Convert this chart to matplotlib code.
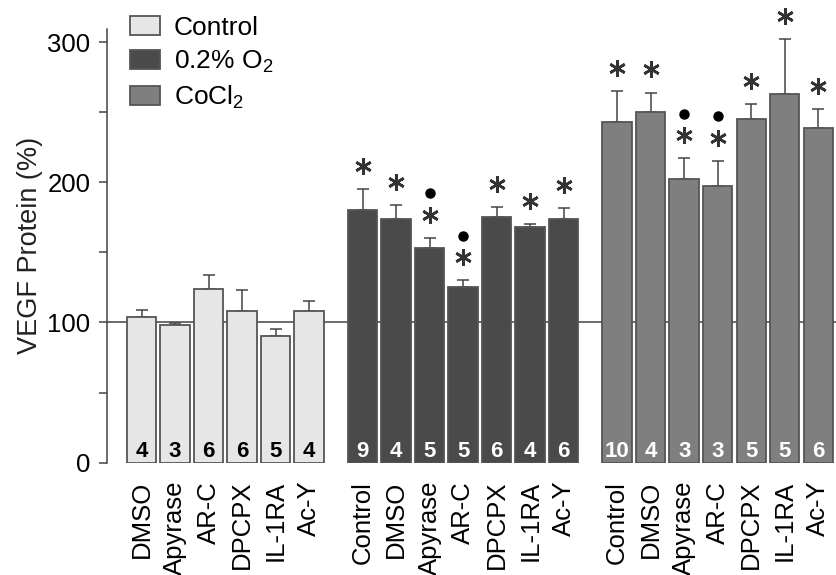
import matplotlib
matplotlib.use("Agg")
import matplotlib.pyplot as plt
import matplotlib.patches as mpatches

plt.rcParams['font.family'] = ['Liberation Sans', 'DejaVu Sans']
plt.rcParams['mathtext.default'] = 'regular'

# data
ctrl_labels = ["DMSO", "Apyrase", "AR-C", "DPCPX", "IL-1RA", "Ac-Y"]
ctrl_mean = [104, 98, 124, 108, 90, 108]
ctrl_err = [5, 1.5, 10, 15, 5.5, 7]
ctrl_n = [4, 3, 6, 6, 5, 4]

hyp_labels = ["Control", "DMSO", "Apyrase", "AR-C", "DPCPX", "IL-1RA", "Ac-Y"]
hyp_mean = [180, 174, 153, 125, 175, 168, 174]
hyp_err = [15, 10, 7, 5, 7, 2, 7.5]
hyp_n = [9, 4, 5, 5, 6, 4, 6]
hyp_star = [True] * 7
hyp_dot = [False, False, True, True, False, False, False]

cocl_labels = ["Control", "DMSO", "Apyrase", "AR-C", "DPCPX", "IL-1RA", "Ac-Y"]
cocl_mean = [243, 250, 202, 197, 245, 263, 239]
cocl_err = [22, 14, 15, 18, 11, 39, 13]
cocl_n = [10, 4, 3, 3, 5, 5, 6]
cocl_star = [True] * 7
cocl_dot = [False, False, True, True, False, False, False]

groups = [
    ("Control", "#e6e6e6", "black", ctrl_labels, ctrl_mean, ctrl_err, ctrl_n,
     [False] * 6, [False] * 6),
    ("0.2% O$_2$", "#4a4a4a", "white", hyp_labels, hyp_mean, hyp_err, hyp_n,
     hyp_star, hyp_dot),
    ("CoCl$_2$", "#7f7f7f", "white", cocl_labels, cocl_mean, cocl_err, cocl_n,
     cocl_star, cocl_dot),
]

fig = plt.figure(figsize=(8.36, 5.75), dpi=100)
ax = fig.add_axes([0.128, 0.1953, 0.872, 0.7543])

ax.axhline(100, color='#444444', lw=1.1, zorder=0)

gap = 1.6
start = 0.0
ticks, ticklabels, handles = [], [], []
for name, face, ncol, labels, mean, err, n, star, dot in groups:
    xs = [start + i for i in range(len(labels))]
    ax.bar(xs, mean, width=0.88, color=face, edgecolor='#555555', lw=1.3,
           zorder=2)
    ax.errorbar(xs, mean, yerr=[[0] * len(err), err], fmt='none',
                ecolor='#444444', elinewidth=1.1, capsize=4.5, capthick=1.1,
                zorder=1)
    for x, m, e, k, s, d in zip(xs, mean, err, n, star, dot):
        ax.text(x, 4.3, str(k), ha='center', va='baseline', fontsize=16,
                fontweight='bold', color=ncol, zorder=3)
        top = m + e
        if s:
            ax.plot(x, top + 16.5, marker=(6, 2, 0), ms=12, mew=1.9,
                    color='#333333', clip_on=False, zorder=4)
        if d:
            ax.plot(x, top + 32, marker='o', ms=6.5, color='black',
                    clip_on=False, zorder=4)
    ticks += xs
    ticklabels += labels
    handles.append(mpatches.Patch(facecolor=face, edgecolor='#555555',
                                  lw=1.3, label=name))
    start = xs[-1] + gap

ax.set_xlim(-1.03, 20.73)
ax.set_ylim(0, 309.3)
ax.set_xticks(ticks)
ax.set_xticklabels(ticklabels, rotation=90, fontsize=18.5, va='top')
ax.tick_params(axis='x', length=0, pad=13)
ax.set_yticks([0, 100, 200, 300])
ax.set_yticks([50, 150, 250], minor=True)
ax.tick_params(axis='y', which='both', length=6, width=1.1,
               color='#444444', labelsize=18.5, pad=6)
ax.set_ylabel("VEGF Protein (%)", fontsize=19.5, color='#222222',
              labelpad=3)

for side in ['top', 'right', 'bottom']:
    ax.spines[side].set_visible(False)
ax.spines['left'].set_color('#444444')
ax.spines['left'].set_linewidth(1.1)

fig.legend(handles=handles, loc='upper left',
           bbox_to_anchor=(130 / 836, 1 - 16 / 575), frameon=False,
           fontsize=19, handlelength=1.15, handleheight=0.75,
           handletextpad=0.5, labelspacing=0.33, borderpad=0,
           borderaxespad=0)

fig.savefig("out.png", dpi=100)
